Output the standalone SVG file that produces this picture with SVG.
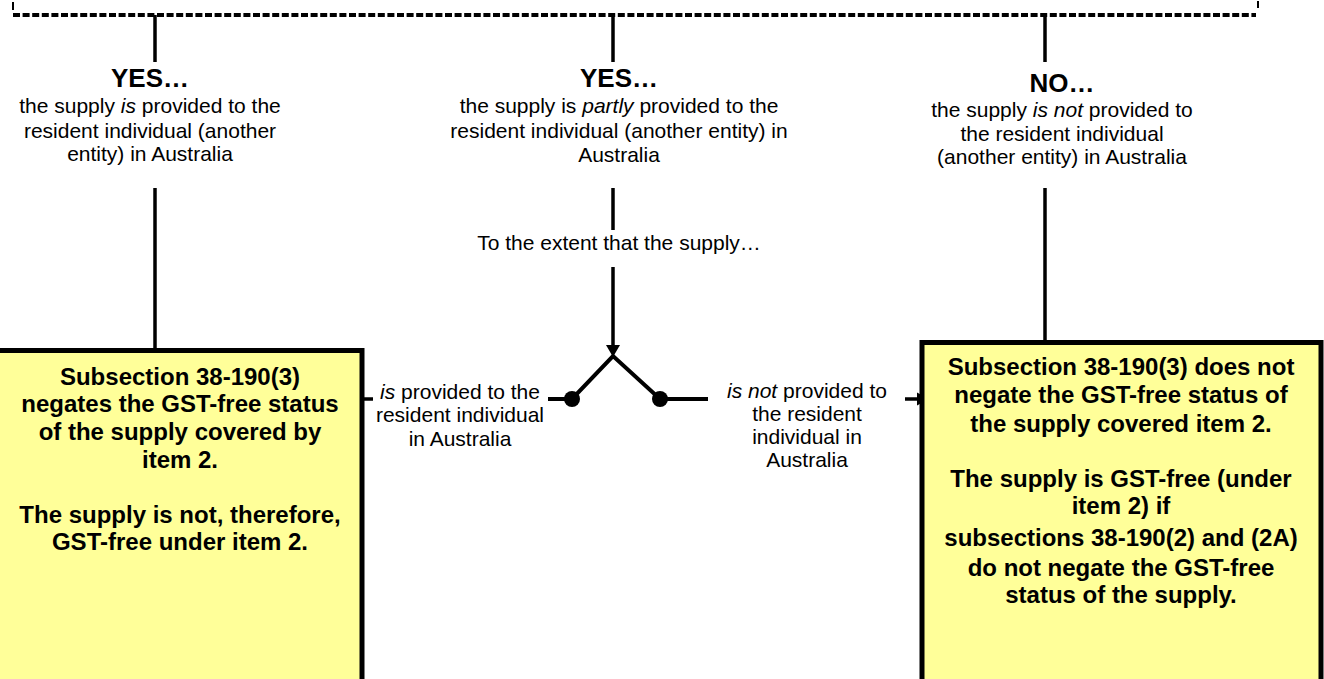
<svg xmlns="http://www.w3.org/2000/svg" width="1324" height="679" viewBox="0 0 1324 679">
<defs>
<style>
.ln{stroke:#000;stroke-width:3.5;fill:none}
.yl{stroke:#000;stroke-width:4;fill:none}
.t{font-family:"Liberation Sans",Arial,sans-serif;font-size:21px;fill:#000;text-anchor:middle}
.h{font-family:"Liberation Sans",Arial,sans-serif;font-size:26px;font-weight:bold;fill:#000;text-anchor:middle}
.b{font-family:"Liberation Sans",Arial,sans-serif;font-size:24px;font-weight:bold;fill:#000;text-anchor:middle}
.box{fill:#FFFF99;stroke:#000;stroke-width:5}
</style>
</defs>
<rect width="1324" height="679" fill="#fff"/>
<g id="question">
<line x1="13" y1="2" x2="13" y2="10" stroke="#000" stroke-width="2"/>
<line x1="1258" y1="1" x2="1258" y2="8" stroke="#000" stroke-width="2"/>
<line x1="13" y1="15" x2="1256" y2="15" stroke="#000" stroke-width="4" stroke-dasharray="7,2.6"/>
</g>
<g id="connectors">
<line class="ln" x1="155" y1="15" x2="155" y2="62"/>
<line class="ln" x1="155" y1="188" x2="155" y2="350"/>
<line class="ln" x1="613" y1="15" x2="613" y2="62"/>
<line class="ln" x1="613" y1="188" x2="613" y2="230"/>
<line class="ln" x1="613" y1="267" x2="613" y2="350"/>
<path d="M606,345 L620,345 L613,357 z" fill="#000"/>
<line class="ln" x1="1045" y1="15" x2="1045" y2="62"/>
<line class="ln" x1="1045" y1="188" x2="1045" y2="342"/>
<polyline class="yl" points="548,399 572,399 613,356 660,399 708,399"/>
<circle cx="572" cy="399" r="8" fill="#000"/>
<circle cx="660" cy="399" r="8" fill="#000"/>
<line class="ln" x1="362" y1="399" x2="373" y2="399"/>
<line class="ln" x1="905" y1="399" x2="920" y2="399"/>
<path d="M917,392.5 L929,399 L917,405.5 z" fill="#000"/>
</g>
<g id="yes-left">
<text class="h" x="150" y="87">YES…</text>
<text class="t" x="150" y="113">the supply <tspan font-style="italic">is</tspan> provided to the</text>
<text class="t" x="150" y="138">resident individual (another</text>
<text class="t" x="150" y="161">entity) in Australia</text>
</g>
<g id="yes-middle">
<text class="h" x="619" y="87">YES…</text>
<text class="t" x="619" y="113">the supply is <tspan font-style="italic">partly</tspan> provided to the</text>
<text class="t" x="619" y="138">resident individual (another entity) in</text>
<text class="t" x="619" y="162">Australia</text>
<text class="t" x="619" y="250">To the extent that the supply…</text>
</g>
<g id="no-right">
<text class="h" x="1062" y="92">NO…</text>
<text class="t" x="1062" y="117">the supply <tspan font-style="italic">is not</tspan> provided to</text>
<text class="t" x="1062" y="141">the resident individual</text>
<text class="t" x="1062" y="164">(another entity) in Australia</text>
</g>
<g id="label-is">
<text class="t" x="460" y="399"><tspan font-style="italic">is</tspan> provided to the</text>
<text class="t" x="460" y="422">resident individual</text>
<text class="t" x="460" y="446">in Australia</text>
</g>
<g id="label-isnot">
<text class="t" x="807" y="398"><tspan font-style="italic">is not</tspan> provided to</text>
<text class="t" x="807" y="421">the resident</text>
<text class="t" x="807" y="444">individual in</text>
<text class="t" x="807" y="467">Australia</text>
</g>
<g id="box-left">
<rect class="box" x="-5" y="350.5" width="367" height="340"/>
<text class="b" x="180" y="385">Subsection 38-190(3)</text>
<text class="b" x="180" y="412">negates the GST-free status</text>
<text class="b" x="180" y="440">of the supply covered by</text>
<text class="b" x="180" y="468">item 2.</text>
<text class="b" x="180" y="523">The supply is not, therefore,</text>
<text class="b" x="180" y="550">GST-free under item 2.</text>
</g>
<g id="box-right">
<rect class="box" x="922" y="342.5" width="399" height="348"/>
<text class="b" x="1121" y="375">Subsection 38-190(3) does not</text>
<text class="b" x="1121" y="403">negate the GST-free status of</text>
<text class="b" x="1121" y="432">the supply covered item 2.</text>
<text class="b" x="1121" y="487">The supply is GST-free (under</text>
<text class="b" x="1121" y="514">item 2) if</text>
<text class="b" x="1121" y="546">subsections 38-190(2) and (2A)</text>
<text class="b" x="1121" y="576">do not negate the GST-free</text>
<text class="b" x="1121" y="603">status of the supply.</text>
</g>
</svg>
